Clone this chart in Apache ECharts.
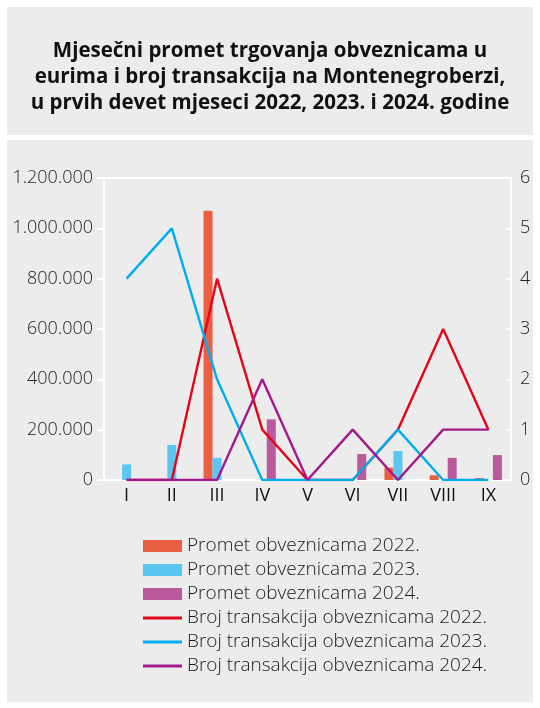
<!DOCTYPE html>
<html><head><meta charset="utf-8">
<script src="https://cdn.jsdelivr.net/npm/echarts@6/dist/echarts.min.js"></script>
<style>html,body{margin:0;padding:0;background:#fff;}#c{width:540px;height:708px;}</style>
</head><body><div id="c"></div>
<script>
const categories = ['I','II','III','IV','V','VI','VII','VIII','IX'];
const promet2022 = [0, 0, 1070000, 0, 0, 0, 49000, 18700, 8000];
const promet2023 = [62000, 139000, 88000, 0, 0, 0, 115000, 0, 0];
const promet2024 = [0, 0, 0, 241000, 0, 103000, 0, 88000, 99000];
const broj2022 = [0, 0, 4, 1, 0, 0, 1, 3, 1];
const broj2023 = [4, 5, 2, 0, 0, 0, 1, 0, 0];
const broj2024 = [0, 0, 0, 2, 0, 1, 0, 1, 1];
const leftTicks = ['0','200.000','400.000','600.000','800.000','1.000.000','1.200.000'];
const rightTicks = ['0','1','2','3','4','5','6'];
const titleText = 'Mjesečni promet trgovanja obveznicama u\neurima i broj transakcija na Montenegroberzi,\nu prvih devet mjeseci 2022, 2023. i 2024. godine';
const names = ['Promet obveznicama 2022.','Promet obveznicama 2023.','Promet obveznicama 2024.',
  'Broj transakcija obveznicama 2022.','Broj transakcija obveznicama 2023.','Broj transakcija obveznicama 2024.'];

const FONT = '"Open Sans", "Noto Sans", sans-serif';
const chart = echarts.init(document.getElementById('c'), null, {renderer:'canvas'});
const barColors = ['#EA5F44','#5CC6F2','#B95A9D'];
const lineColors = ['#E3051B','#00AEEF','#A3198B'];
const mkBar = (i, data) => ({name:names[i], type:'bar', yAxisIndex:0, data:data, barWidth:9, barGap:'0%',
  itemStyle:{color:barColors[i]}, silent:true});
const mkLine = (i, data) => ({name:names[i+3], type:'line', yAxisIndex:1, data:data, symbol:'none', showSymbol:false,
  lineStyle:{color:lineColors[i], width:2.4}, itemStyle:{color:lineColors[i]}, silent:true});
const legendText = {fontFamily:FONT, fontSize:19, fontWeight:300, color:'#1a1a1a', lineHeight:20};
chart.setOption({
  backgroundColor:'#fff',
  animation:false,
  textStyle:{fontFamily:FONT},
  graphic:[
    {type:'rect', shape:{x:7,y:7,width:526,height:128}, style:{fill:'#ECECEC'}, z:-10},
    {type:'rect', shape:{x:7,y:140,width:526,height:562}, style:{fill:'#ECECEC'}, z:-10}
  ],
  title:{text:titleText, left:'center', top:33,
    textStyle:{fontFamily:FONT, fontSize:20.5, fontWeight:'bold', color:'#111', lineHeight:26}},
  grid:{left:104, right:29, top:178, bottom:228, show:true, borderColor:'#fff', borderWidth:2, backgroundColor:'transparent'},
  legend:[
    {orient:'vertical', left:138, top:531, itemWidth:39, itemHeight:12, itemGap:4, icon:'rect',
     textStyle:legendText, data:[names[0],names[1],names[2]], selectedMode:false},
    {orient:'vertical', left:138, top:603, itemWidth:39, itemHeight:3, itemGap:4, icon:'rect',
     textStyle:legendText, data:[names[3],names[4],names[5]], selectedMode:false}
  ],
  xAxis:{type:'category', data:categories, boundaryGap:true,
    axisLine:{lineStyle:{color:'#fff', width:2}}, axisTick:{show:false},
    axisLabel:{fontFamily:FONT, fontSize:18, color:'#111', margin:7}},
  yAxis:[
    {type:'value', min:0, max:1200000, interval:200000, position:'left',
     axisLine:{show:true, lineStyle:{color:'#fff', width:2}},
     axisTick:{show:true, length:7, lineStyle:{color:'#fff', width:2}},
     splitLine:{show:false},
     axisLabel:{fontFamily:FONT, fontSize:18, fontWeight:300, color:'#222', margin:11,
       formatter:(v)=>leftTicks[Math.round(v/200000)]}},
    {type:'value', min:0, max:6, interval:1, position:'right',
     axisLine:{show:true, lineStyle:{color:'#fff', width:2}},
     axisTick:{show:true, inside:true, length:4, lineStyle:{color:'#fff', width:2}},
     splitLine:{show:false},
     axisLabel:{fontFamily:FONT, fontSize:18, fontWeight:300, color:'#222', margin:9,
       formatter:(v)=>rightTicks[Math.round(v)]}}
  ],
  series:[
    mkBar(0,promet2022), mkBar(1,promet2023), mkBar(2,promet2024),
    mkLine(0,broj2022), mkLine(1,broj2023), mkLine(2,broj2024)
  ]
});
</script></body></html>
